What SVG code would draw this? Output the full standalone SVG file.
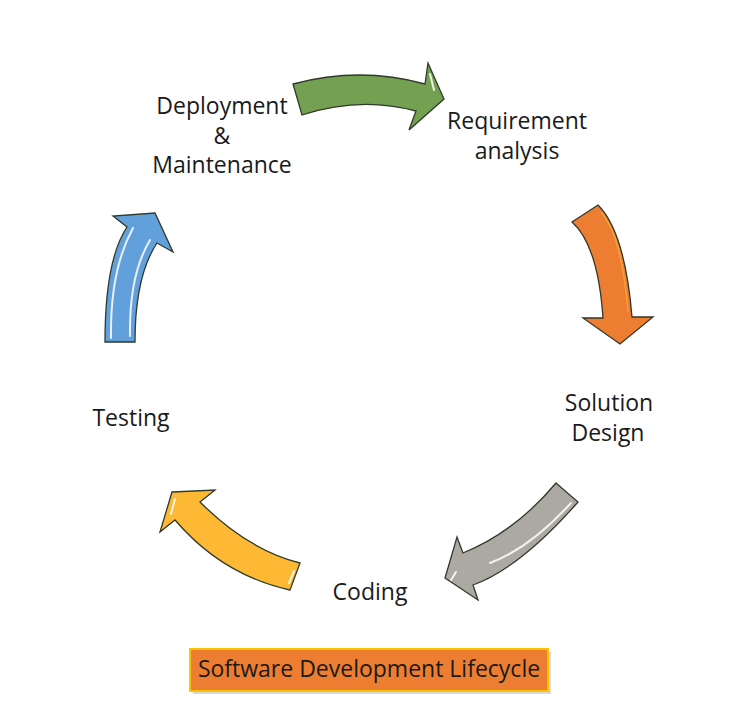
<svg xmlns="http://www.w3.org/2000/svg" width="730" height="721" viewBox="0 0 730 721">
<style>
  .lbl { font-family: "Open Sans", "Noto Sans", "Liberation Sans", sans-serif; font-size: 23px; fill: #1a1a1a; text-anchor: middle; }
  .arrow { stroke: #2f3a2a; stroke-width: 1.3; stroke-linejoin: miter; }
  .hl { fill: none; stroke: #ffffff; stroke-width: 2; stroke-linecap: round; opacity: 0.85; }
</style>
<rect x="0" y="0" width="730" height="721" fill="#ffffff"/>

<g id="connectors">
  <!-- Deployment -> Requirement (green) -->
  <path class="arrow" fill="#74A052" d="M293,84 Q360,66 425,84 L428,63 L444,99 L409,130 L416,111 Q360,96 302,115 Z"/>
  <path class="hl" d="M430,74 L434,90"/>
  <!-- Requirement -> Solution (orange) -->
  <path class="arrow" fill="#ED7D31" d="M572,222 L598,205 Q625,232 632,317 L653,317 L620,344 L583,318 L603,318 Q598,245 572,222 Z"/>
  <path fill="none" stroke="#F9A93A" stroke-width="1.5" opacity="0.8" d="M601,212 Q622,236 628,312"/>
  <!-- Solution -> Coding (gray) -->
  <path class="arrow" fill="#ABA9A1" d="M556,483 L578,502 Q520,568 473,585 L478,600 L445,578 L457,537 L463,553 Q515,532 556,483 Z"/>
  <path class="hl" d="M571,503 Q530,548 490,563" opacity="0.6"/>
  <path class="hl" d="M456,572 L451,580" opacity="0.7"/>
  <!-- Coding -> Testing (yellow) -->
  <path class="arrow" fill="#FDB933" d="M172,492 L215,490 L200,502 Q248,550 300,563 L290,590 Q222,575 175,520 L160,532 Z"/>
  <path class="hl" d="M294,571 L289,583"/>
  <path class="hl" d="M175,499 L171,514"/>
  <!-- Testing -> Deployment (blue) -->
  <path class="arrow" fill="#62A0DB" d="M105,342 Q105,260 127,227 L113,216 L155,213 L173,252 L157,243 Q135,276 135,342 Z"/>
  <path class="hl" d="M111,338 Q110,270 133,228"/>
  <path class="hl" d="M130,336 Q129,275 150,240"/>
</g>

<g id="node-deployment">
  <text class="lbl" x="222" y="114">Deployment</text>
  <text class="lbl" x="222" y="144">&amp;</text>
  <text class="lbl" x="222" y="173">Maintenance</text>
</g>
<g id="node-requirement">
  <text class="lbl" x="517" y="129">Requirement</text>
  <text class="lbl" x="517" y="159">analysis</text>
</g>
<g id="node-solution">
  <text class="lbl" x="609" y="411">Solution</text>
  <text class="lbl" x="608" y="441">Design</text>
</g>
<g id="node-coding">
  <text class="lbl" x="370" y="600">Coding</text>
</g>
<g id="node-testing">
  <text class="lbl" x="131" y="426">Testing</text>
</g>

<g id="title">
  <rect x="193" y="652" width="358" height="42" fill="#c9c9c9" opacity="0.7"/>
  <rect x="190" y="649" width="358" height="42" fill="#ED7D31" stroke="#FFC000" stroke-width="2"/>
  <text class="lbl" x="369" y="677" font-size="22.5">Software Development Lifecycle</text>
</g>
</svg>
